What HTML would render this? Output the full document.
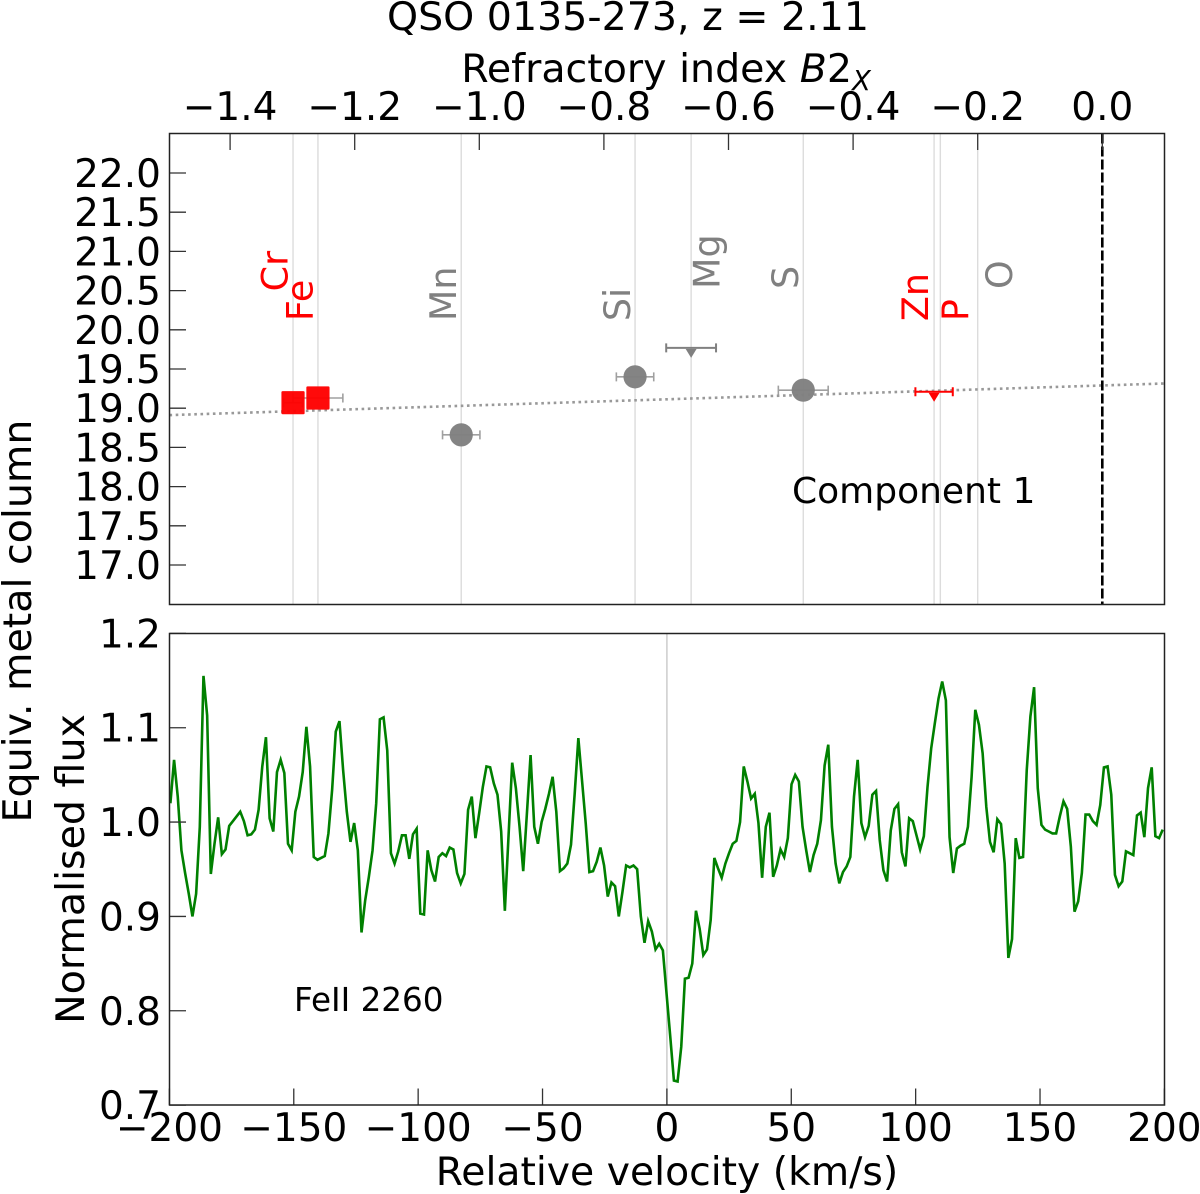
<!DOCTYPE html>
<html lang="en">
<head>
<meta charset="utf-8">
<title>QSO 0135-273 refractory index chart</title>
<style>
html,body{margin:0;padding:0;background:#fff;width:1200px;height:1194px;overflow:hidden}
svg{display:block}
text{font-family:"DejaVu Sans","Liberation Sans",sans-serif;fill:#000}
</style>
</head>
<body>
<svg id="chart" xmlns="http://www.w3.org/2000/svg" width="1200" height="1194" viewBox="0 0 1200 1194">
  <rect x="0" y="0" width="1200" height="1194" fill="#fff"/>
  <g id="top-layer"></g>
  <g id="bottom-layer"></g>
  <text x="628" y="30" text-anchor="middle" font-size="39.5">QSO 0135-273, z = 2.11</text>
  <text x="666" y="82" text-anchor="middle" font-size="39.5">Refractory index <tspan font-style="italic">B</tspan>2<tspan font-style="italic" font-size="27.5" dy="8">X</tspan></text>
  <text transform="translate(31,621) rotate(-90)" text-anchor="middle" font-size="39.5">Equiv. metal column</text>
  <text transform="translate(84,869) rotate(-90)" text-anchor="middle" font-size="39.5">Normalised flux</text>
  <text x="667" y="1185" text-anchor="middle" font-size="39.3">Relative velocity (km/s)</text>
  <text x="792" y="503" font-size="36">Component 1</text>
  <text x="294" y="1011" font-size="32.6">FeII 2260</text>
</svg>
<script>
// ---- data: abundance panel ----
const elementNames = ["Cr","Fe","Mn","Si","Mg","S","Zn","P","O"];
const refractoryIndex = [-1.299,-1.259,-1.029,-0.750,-0.660,-0.480,-0.270,-0.260,-0.200];
const metalColumn = [19.07,19.13,18.66,19.40,19.77,19.23,19.21,null,null];
const indexError = [0.015,0.04,0.03,0.03,0.04,0.04,0.03,null,null];
const markerKind = ["square","square","circle","circle","limit","circle","limit",null,null];
const labelColor = ["#ff0000","#ff0000","#808080","#808080","#808080","#808080","#ff0000","#ff0000","#808080"];
const labelValue = [20.49,20.11,20.11,20.11,20.52,20.52,20.11,20.11,20.52];
const fitIntercept = 19.29;
const fitSlope = 0.2525;
const topXTicks = [-1.4,-1.2,-1.0,-0.8,-0.6,-0.4,-0.2,0.0];
const topYTicks = [17.0,17.5,18.0,18.5,19.0,19.5,20.0,20.5,21.0,21.5,22.0];
// ---- data: flux panel ----
const bottomXTicks = [-200,-150,-100,-50,0,50,100,150,200];
const bottomYTicks = [0.7,0.8,0.9,1.0,1.1,1.2];
const velocityStart = -199.6;
const velocityStep = 1.4775;
const fluxValues = [
1.020,1.066,1.027,0.970,0.946,0.924,0.900,0.924,0.995,1.155,1.113,0.945,0.977,1.005,0.966,0.971,0.996,1.001,1.006,1.011,
1.001,0.986,0.987,0.992,1.013,1.059,1.090,1.004,0.990,1.053,1.066,1.052,0.977,0.970,1.011,1.027,1.053,1.101,1.059,0.963,
0.960,0.962,0.964,0.988,1.034,1.096,1.107,1.055,1.011,0.979,0.999,0.970,0.883,0.917,0.942,0.970,1.020,1.109,1.111,1.076,
0.967,0.956,0.969,0.986,0.986,0.961,0.987,0.993,0.903,0.902,0.970,0.949,0.937,0.963,0.967,0.964,0.973,0.971,0.946,0.935,
0.945,1.013,1.027,0.983,1.009,1.037,1.059,1.058,1.041,1.029,0.990,
0.906,0.985,1.063,1.036,0.995,0.948,1.009,1.071,0.995,0.977,1.000,1.014,1.030,1.048,1.011,0.948,0.951,0.956,0.976,1.030,
1.089,1.044,0.999,0.947,0.948,0.958,0.973,0.954,0.921,0.936,0.932,0.900,0.926,0.954,0.952,0.954,0.950,0.900,0.872,0.895,
0.884,0.865,0.871,0.864,0.818,0.773,0.726,0.725,0.762,0.834,0.835,0.850,0.906,0.887,0.859,0.865,0.896,0.962,0.951,0.941,
0.956,0.967,0.977,0.980,1.000,1.059,1.043,1.025,1.030,0.999,0.941,0.995,1.010,0.942,0.954,0.971,0.963,0.983,1.040,1.050,
1.043,0.995,0.970,0.947,0.965,0.977,1.002,1.060,1.082,
0.995,0.956,0.935,0.947,0.953,0.963,1.027,1.066,0.999,0.984,0.996,1.029,1.033,0.981,0.949,0.937,0.991,1.014,1.019,0.968,
0.953,1.004,1.001,0.986,0.971,0.985,1.037,1.078,1.105,1.131,1.149,1.129,0.984,0.946,0.972,0.975,0.977,0.995,1.048,1.119,
1.103,1.073,1.016,0.979,0.968,1.003,0.998,0.956,0.856,0.876,0.983,0.962,0.963,1.055,1.112,1.143,1.036,0.997,0.992,0.990,
0.988,0.988,1.006,1.022,1.014,0.974,0.905,0.916,0.946,1.008,1.008,1.001,0.997,1.018,1.058,1.059,1.029,0.944,0.932,0.937,
0.969,0.967,0.965,1.007,1.010,0.984,1.036,1.058,0.985,0.983,0.992
];

const NS = "http://www.w3.org/2000/svg";
const L = 169.5, R = 1164.5, T1 = 133.5, B1 = 604.5, T2 = 633.5, B2 = 1105;
const topLayer = document.getElementById("top-layer");
const bottomLayer = document.getElementById("bottom-layer");

function xIndex(b){ return 1102.3 + b * 623; }
function yColumn(n){ return 173 + (22 - n) * 78.4; }
function xVelocity(v){ return 666.9 + v * 2.4875; }
function yFlux(f){ return 633.4 + (1.2 - f) * 943.4; }

function make(parent, tag, attrs){
  const el = document.createElementNS(NS, tag);
  for (const k in attrs) el.setAttribute(k, attrs[k]);
  parent.appendChild(el);
  return el;
}
function fmt(v, d){ return v.toFixed(d).replace("-", "\u2212"); }

// ---- abundance panel ----
elementNames.forEach(function(name, i){
  const x = xIndex(refractoryIndex[i]);
  const line = make(topLayer, "line", {x1:x, x2:x, y1:T1, y2:B1, stroke:"#dcdcdc", "stroke-width":1.4});
  
  
});

const fitLine = make(topLayer, "line", {
  x1:L, x2:R,
  y1:yColumn(fitIntercept + fitSlope * ((L - 1102.3) / 623)),
  y2:yColumn(fitIntercept + fitSlope * ((R - 1102.3) / 623)),
  stroke:"#999999", "stroke-width":2.6, "stroke-dasharray":"2.6 3.6"
});



const zeroLine = make(topLayer, "line", {x1:xIndex(0), x2:xIndex(0), y1:T1, y2:B1, stroke:"#000", "stroke-width":2.6, "stroke-dasharray":"10 3"});



// error bars first so the markers sit above every bar
elementNames.forEach(function(name, i){
  if (metalColumn[i] === null) return;
  const y = yColumn(metalColumn[i]);
  const x0 = xIndex(refractoryIndex[i] - indexError[i]), x1 = xIndex(refractoryIndex[i] + indexError[i]);
  const isLimit = markerKind[i] === "limit";
  const barColor = isLimit ? labelColor[i] : "#a0a0a0";
  const bar = make(topLayer, "path", {
    d:"M" + x0 + " " + y + "H" + x1 + "M" + x0 + " " + (y - 4.5) + "V" + (y + 4.5) + "M" + x1 + " " + (y - 4.5) + "V" + (y + 4.5),
    stroke:barColor, "stroke-width":isLimit ? 2 : 1.6, fill:"none"
  });
  
  
});

elementNames.forEach(function(name, i){
  const color = labelColor[i];
  const baselineX = [287.5,312.5,456,630,719.5,798,928,968,1012][i];
  const label = make(topLayer, "text", {
    transform:"translate(" + baselineX + "," + yColumn(labelValue[i]) + ") rotate(-90)",
    "font-size":36.5
  });
  label.style.fill = color;
  label.textContent = name;
  
  

  if (metalColumn[i] === null) return;
  const x = xIndex(refractoryIndex[i]), y = yColumn(metalColumn[i]);
  let marker;
  if (markerKind[i] === "square") {
    marker = make(topLayer, "rect", {x:x - 11.6, y:y - 11.6, width:23.2, height:23.2, rx:1.2, fill:"#ff0000", "fill-opacity":0.96});
  } else if (markerKind[i] === "circle") {
    marker = make(topLayer, "circle", {cx:x, cy:y, r:11.6, fill:"#808080", "fill-opacity":0.97});
  } else {
    marker = make(topLayer, "path", {d:"M" + (x - 5.5) + " " + (y + 1) + "H" + (x + 5.5) + "L" + x + " " + (y + 10) + "Z", fill:color});
  }
  
  
});

topXTicks.forEach(function(t){
  const x = xIndex(t);
  const tick = make(topLayer, "line", {x1:x, x2:x, y1:T1, y2:T1 + 16.5, stroke:"#333", "stroke-width":1.3});
  
  
  const label = make(topLayer, "text", {x:x, y:120, "text-anchor":"middle", "font-size":39});
  label.textContent = fmt(t, 1);
  
  
});
topYTicks.forEach(function(t){
  const y = yColumn(t);
  const tick = make(topLayer, "line", {x1:L, x2:L + 16.5, y1:y, y2:y, stroke:"#333", "stroke-width":1.3});
  
  
  const label = make(topLayer, "text", {x:161, y:y + 14, "text-anchor":"end", "font-size":39});
  label.textContent = fmt(t, 1);
  
  
});
const topFrame = make(topLayer, "rect", {x:L, y:T1, width:R - L, height:B1 - T1, fill:"none", stroke:"#222", "stroke-width":1.5});



// ---- flux panel ----
const velocityZero = make(bottomLayer, "line", {x1:xVelocity(0), x2:xVelocity(0), y1:T2, y2:B2, stroke:"#cccccc", "stroke-width":1.5});



const spectrumPoints = fluxValues.map(function(f, i){
  return xVelocity(velocityStart + i * velocityStep).toFixed(2) + "," + yFlux(f).toFixed(2);
}).join(" ");
const spectrum = make(bottomLayer, "polyline", {points:spectrumPoints, fill:"none", stroke:"#008000", "stroke-width":2.6, "stroke-linejoin":"miter"});



bottomXTicks.forEach(function(t){
  const x = xVelocity(t);
  const tick = make(bottomLayer, "line", {x1:x, x2:x, y1:B2, y2:B2 - 16.5, stroke:"#333", "stroke-width":1.3});
  
  
  const label = make(bottomLayer, "text", {x:x, y:1141, "text-anchor":"middle", "font-size":39});
  label.textContent = fmt(t, 0);
  
  
});
bottomYTicks.forEach(function(t){
  const y = yFlux(t);
  const tick = make(bottomLayer, "line", {x1:L, x2:L + 16.5, y1:y, y2:y, stroke:"#333", "stroke-width":1.3});
  
  
  const label = make(bottomLayer, "text", {x:161, y:y + 14, "text-anchor":"end", "font-size":39});
  label.textContent = fmt(t, 1);
  
  
});
const bottomFrame = make(bottomLayer, "rect", {x:L, y:T2, width:R - L, height:B2 - T2, fill:"none", stroke:"#222", "stroke-width":1.5});


</script>
</body>
</html>
